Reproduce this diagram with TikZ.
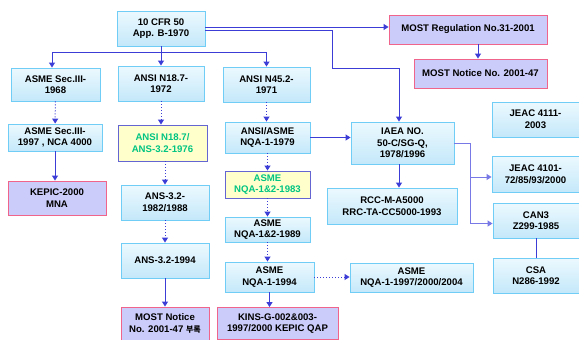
\documentclass[tikz,border=0pt]{standalone}
\usepackage{fontspec}
\setmainfont{Liberation Sans}
\newfontfamily\krfont{Noto Sans CJK KR}
\usetikzlibrary{arrows.meta,shadings}
\definecolor{boxline}{RGB}{112,206,246}
\definecolor{boxtop}{RGB}{236,249,254}
\definecolor{boxbot}{RGB}{196,232,250}
\definecolor{pinkline}{RGB}{240,100,140}
\definecolor{lavender}{RGB}{204,204,250}
\definecolor{yelfill}{RGB}{255,255,204}
\definecolor{yelline}{RGB}{100,100,210}
\definecolor{yeltext}{RGB}{0,196,130}
\definecolor{arrblue}{RGB}{60,60,215}
\definecolor{arrlight}{RGB}{120,120,230}
\begin{document}
\begin{tikzpicture}
[
    x=1pt, y=-1pt,
    font=\fontsize{9.6}{11.6}\selectfont\bfseries,
    stdbox/.style={draw=boxline, line width=0.9pt, top color=boxtop, bottom color=boxbot, rectangle, align=center, inner sep=1pt},
    kobox/.style={draw=pinkline, line width=0.9pt, fill=lavender, rectangle, align=center, inner sep=1pt},
    newbox/.style={draw=yelline, line width=0.9pt, fill=yelfill, text=yeltext, rectangle, align=center, inner sep=1pt},
    arr/.style={draw=arrblue, line width=1pt, -{Triangle[length=5pt,width=6pt]}},
    dotarr/.style={arr, dotted}
]
    \useasboundingbox (0,0) rectangle (579,340);
    \fill[white] (0,0) rectangle (579,340);

    % top
    \node [stdbox, minimum width=88pt, minimum height=35pt] (cfr) at (161,28.5) {10 CFR 50\\App. B-1970};
    \node [kobox, minimum width=158pt, minimum height=29pt] (mostreg) at (468,29.5) {MOST Regulation No.31-2001};
    \node [kobox, minimum width=133pt, minimum height=29pt] (mostnot) at (480.5,73.5) {MOST Notice No. 2001-47};

    % column 1
    \node [stdbox, minimum width=89pt, minimum height=33pt] (sec68) at (55.5,84.5) {ASME Sec.III-\\1968};
    \node [stdbox, minimum width=94pt, minimum height=27pt] (sec97) at (55,137.5) {ASME Sec.III-\\1997 , NCA 4000};
    \node [kobox, minimum width=98pt, minimum height=34pt] (kepic) at (57,198) {KEPIC-2000\\MNA};

    % column 2
    \node [stdbox, minimum width=86pt, minimum height=35pt] (n187) at (161,83.5) {ANSI N18.7-\\1972};
    \node [newbox, minimum width=89pt, minimum height=36pt] (n187b) at (162.5,143) {ANSI N18.7/\\ANS-3.2-1976};
    \node [stdbox, minimum width=88pt, minimum height=35pt] (ans82) at (165,202.5) {ANS-3.2-\\1982/1988};
    \node [stdbox, minimum width=88pt, minimum height=35pt] (ans94) at (165,260.5) {ANS-3.2-1994};
    \node [kobox, minimum width=88pt, minimum height=33pt] (mostnot2) at (165,323.5) {MOST Notice\\No. 2001-47 {\krfont\fontsize{8}{10}\selectfont 부록}};

    % column 3
    \node [stdbox, minimum width=87pt, minimum height=35pt] (n452) at (266.5,84.5) {ANSI N45.2-\\1971};
    \node [stdbox, minimum width=85pt, minimum height=31pt] (nqa79) at (267.5,137.5) {ANSI/ASME\\NQA-1-1979};
    \node [newbox, minimum width=85pt, minimum height=27pt] (nqa83) at (267.5,184.5) {ASME\\NQA-1\&2-1983};
    \node [stdbox, minimum width=85pt, minimum height=25pt] (nqa89) at (267.5,229.5) {ASME\\NQA-1\&2-1989};
    \node [stdbox, minimum width=89pt, minimum height=30pt] (nqa94) at (269.5,277) {ASME\\NQA-1-1994};
    \node [kobox, minimum width=121pt, minimum height=32pt] (kins) at (277.5,323.5) {KINS-G-002\&003-\\1997/2000 KEPIC QAP};

    % column 4
    \node [stdbox, minimum width=103pt, minimum height=42pt] (iaea) at (402.5,143) {IAEA NO.\\50-C/SG-Q,\\1978/1996};
    \node [stdbox, minimum width=130pt, minimum height=36pt] (rcc) at (392,206) {RCC-M-A5000\\RRC-TA-CC5000-1993};
    \node [stdbox, minimum width=123pt, minimum height=29pt] (nqa97) at (411.5,277.5) {ASME\\NQA-1-1997/2000/2004};

    % column 5
    \node [stdbox, minimum width=87pt, minimum height=35pt] (jeac4111) at (535.5,119.5) {JEAC 4111-\\2003};
    \node [stdbox, minimum width=87pt, minimum height=36pt] (jeac4101) at (535.5,174) {JEAC 4101-\\72/85/93/2000};
    \node [stdbox, minimum width=86pt, minimum height=35pt] (can3) at (536,220.5) {CAN3\\Z299-1985};
    \node [stdbox, minimum width=86pt, minimum height=35pt] (csa) at (536,275.5) {CSA\\N286-1992};

    % connectors from the top box
    \coordinate (bus) at (161,52.5);
    \coordinate (busl) at (52,52.5);
    \coordinate (bend) at (332,68);
    \draw[arrblue, line width=1pt] (cfr.south) -- (bus);
    \draw[arrblue, line width=1pt] (busl) -- (bus -| n452.north);
    \draw[arr] (busl) -- (busl |- sec68.north);
    \draw[arr] (bus) -- (n187.north);
    \draw[arr] (bus -| n452.north) -- (n452.north);
    \draw[arr] ([yshift=1.5pt]cfr.east) -- ([yshift=1.5pt]cfr.east -| mostreg.west);
    \draw[arr] ([yshift=-2pt]cfr.east) -| (bend) -| ([xshift=-3.5pt]iaea.north);
    \draw[arr] ([xshift=10pt]mostreg.south) -- ([xshift=10pt]mostreg.south |- mostnot.north);

    % columns
    \draw[dotarr] (sec68) -- (sec97);
    \draw[arr] (sec97) -- (sec97 |- kepic.north);
    \draw[dotarr] (n187) -- (n187 |- n187b.north);
    \draw[dotarr] (n187b.south -| ans82) -- (ans82);
    \draw[dotarr] (ans82) -- (ans94);
    \draw[arr] (ans94) -- (mostnot2);
    \draw[dotarr] (n452) -- (n452 |- nqa79.north);
    \draw[dotarr] (nqa79) -- (nqa83);
    \draw[dotarr] (nqa83) -- (nqa89);
    \draw[dotarr] (nqa89) -- (nqa89 |- nqa94.north);
    \draw[arr] (nqa94) -- (nqa94 |- kins.north);

    % sideways
    \coordinate (split) at (470,143);
    \coordinate (jeacin) at ([yshift=-3pt]jeac4101.west);
    \coordinate (canin) at ([yshift=-3pt]can3.west);
    \draw[arr] (nqa79.east) -- (nqa79.east -| iaea.west);
    \draw[dotarr] (nqa94.east) -- (nqa94.east -| nqa97.west);
    \draw[arr] ([xshift=-3.5pt]iaea.south) -- ([xshift=-3.5pt]iaea.south |- rcc.north);
    \draw[arr, draw=arrlight] (iaea.east) -- (split) |- (canin);
    \draw[arr, draw=arrlight] (split |- jeacin) -- (jeacin);
    \draw[arrblue, line width=1pt] (can3) -- (csa);
\end{tikzpicture}
\end{document}
